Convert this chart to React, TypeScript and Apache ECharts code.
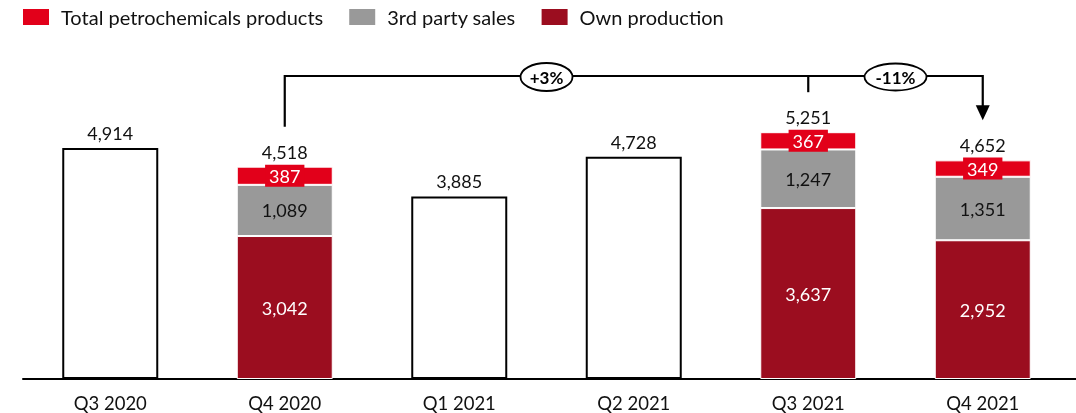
import React, { useEffect, useRef } from "react";
import * as echarts from "echarts";

const categories = ["Q3 2020", "Q4 2020", "Q1 2021", "Q2 2021", "Q3 2021", "Q4 2021"];
const ownProduction = [null, 3042, null, null, 3637, 2952];
const thirdPartySales = [null, 1089, null, null, 1247, 1351];
const petrochemicals = [null, 387, null, null, 367, 349];
const totals = [4914, 4518, 3885, 4728, 5251, 4652];
const stackedIdx = [1, 4, 5];
// bracket: from Q4 2020 to Q4 2021, tick at Q3 2021
const bracketFrom = 1;
const bracketMid = 4;
const bracketTo = 5;
const changeLabels = ["+3%", "-11%"];

const FONT = "Lato, 'Noto Sans', sans-serif";
const RED = "#E2001A";
const GREY = "#999999";
const DARK = "#9B0D1F";

const fmt = (v: number) => v.toLocaleString("en-US");

export default function App() {
  const ref = useRef<HTMLDivElement>(null);
  useEffect(() => {
    const chart = echarts.init(ref.current!, null, { renderer: "svg" });
    const option: any = {
      animation: false,
      textStyle: { fontFamily: FONT },
      legend: {
        left: 21,
        top: 7,
        padding: 0,
        itemWidth: 28,
        itemHeight: 18,
        itemGap: 24,
        icon: "rect",
        data: ["Total petrochemicals products", "3rd party sales", "Own production"],
        textStyle: { fontSize: 20, color: "#111", fontFamily: FONT, padding: [0, 0, 0, 6] },
      },
      grid: { left: 23, right: 6, top: 97, bottom: 34 },
      xAxis: {
        type: "category",
        data: categories,
        axisLine: { lineStyle: { color: "#000", width: 2 } },
        axisTick: { show: false },
        axisLabel: { fontSize: 18.5, color: "#111", margin: 14, fontFamily: FONT },
      },
      yAxis: { type: "value", min: 0, max: 6000, show: false, splitLine: { show: false } },
      series: [
        {
          name: "Own production",
          type: "bar",
          stack: "a",
          barWidth: 96,
          data: ownProduction,
          itemStyle: { color: DARK, borderColor: "#fff", borderWidth: 1 },
          label: { show: true, position: "inside", color: "#fff", fontSize: 18, formatter: (p: any) => fmt(p.value) },
        },
        {
          name: "3rd party sales",
          type: "bar",
          stack: "a",
          barWidth: 96,
          data: thirdPartySales,
          itemStyle: { color: GREY, borderColor: "#fff", borderWidth: 1 },
          label: { show: true, position: "inside", color: "#111", fontSize: 18, formatter: (p: any) => fmt(p.value) },
        },
        {
          name: "Total petrochemicals products",
          type: "bar",
          stack: "a",
          barWidth: 96,
          data: petrochemicals,
          itemStyle: { color: RED, borderColor: "#fff", borderWidth: 1 },
          label: {
            show: true,
            position: "inside",
            color: "#fff",
            fontSize: 18,
            backgroundColor: RED,
            padding: [3, 4, 1, 4],
            formatter: (p: any) => fmt(p.value),
          },
        },
        {
          name: "Total",
          type: "bar",
          barWidth: 96,
          barGap: "-100%",
          z: 1,
          data: totals.map((v, i) =>
            stackedIdx.includes(i)
              ? { value: v, itemStyle: { color: "rgba(0,0,0,0)", borderWidth: 0 } }
              : { value: v, itemStyle: { color: "#fff", borderColor: "#000", borderWidth: 2 } }
          ),
          label: { show: true, position: "top", distance: 6, color: "#111", fontSize: 18, formatter: (p: any) => fmt(p.value) },
        },
      ],
    };
    chart.setOption(option);

    const px = (i: number, v: number) => chart.convertToPixel({ gridIndex: 0 } as any, [i, v]) as number[];
    const [x1, t1] = px(bracketFrom, totals[bracketFrom]);
    const [xm, tm] = px(bracketMid, totals[bracketMid]);
    const [x2, t2] = px(bracketTo, totals[bracketTo]);
    const [, y0] = px(0, 0);
    const yTop = 76;
    const gap = 40;
    const lineStyle = { stroke: "#000", lineWidth: 2.2 };
    const c1 = (x1 + xm) / 2;
    const c2 = (xm + x2) / 2;
    chart.setOption({
      graphic: [
        { type: "line", shape: { x1: 1068, y1: y0, x2: 1076, y2: y0 }, style: { stroke: "#000", lineWidth: 2 } },
        { type: "polyline", shape: { points: [[x1, t1 - gap], [x1, yTop], [x2, yTop], [x2, t2 - gap - 14]] }, style: { ...lineStyle, fill: null }, z: 10 },
        { type: "line", shape: { x1: xm, y1: yTop, x2: xm, y2: tm - gap }, style: lineStyle, z: 10 },
        { type: "polygon", shape: { points: [[x2 - 7, t2 - gap - 15], [x2 + 7, t2 - gap - 15], [x2, t2 - gap]] }, style: { fill: "#000" }, z: 10 },
        { type: "ellipse", shape: { cx: c1, cy: yTop + 1, rx: 26, ry: 14 }, style: { fill: "#fff", stroke: "#000", lineWidth: 1.8 }, z: 11 },
        { type: "text", x: c1, y: yTop + 1, style: { text: changeLabels[0], align: "center", verticalAlign: "middle", font: `bold 17px ${FONT}`, fill: "#000" }, z: 12 },
        { type: "ellipse", shape: { cx: c2, cy: yTop + 1, rx: 31, ry: 13.5 }, style: { fill: "#fff", stroke: "#000", lineWidth: 1.8 }, z: 11 },
        { type: "text", x: c2, y: yTop + 1, style: { text: changeLabels[1], align: "center", verticalAlign: "middle", font: `bold 17px ${FONT}`, fill: "#000" }, z: 12 },
      ],
    });
    return () => chart.dispose();
  }, []);
  return <div ref={ref} style={{ position: "fixed", left: 0, top: 0, width: 1076, height: 413 }} />;
}
